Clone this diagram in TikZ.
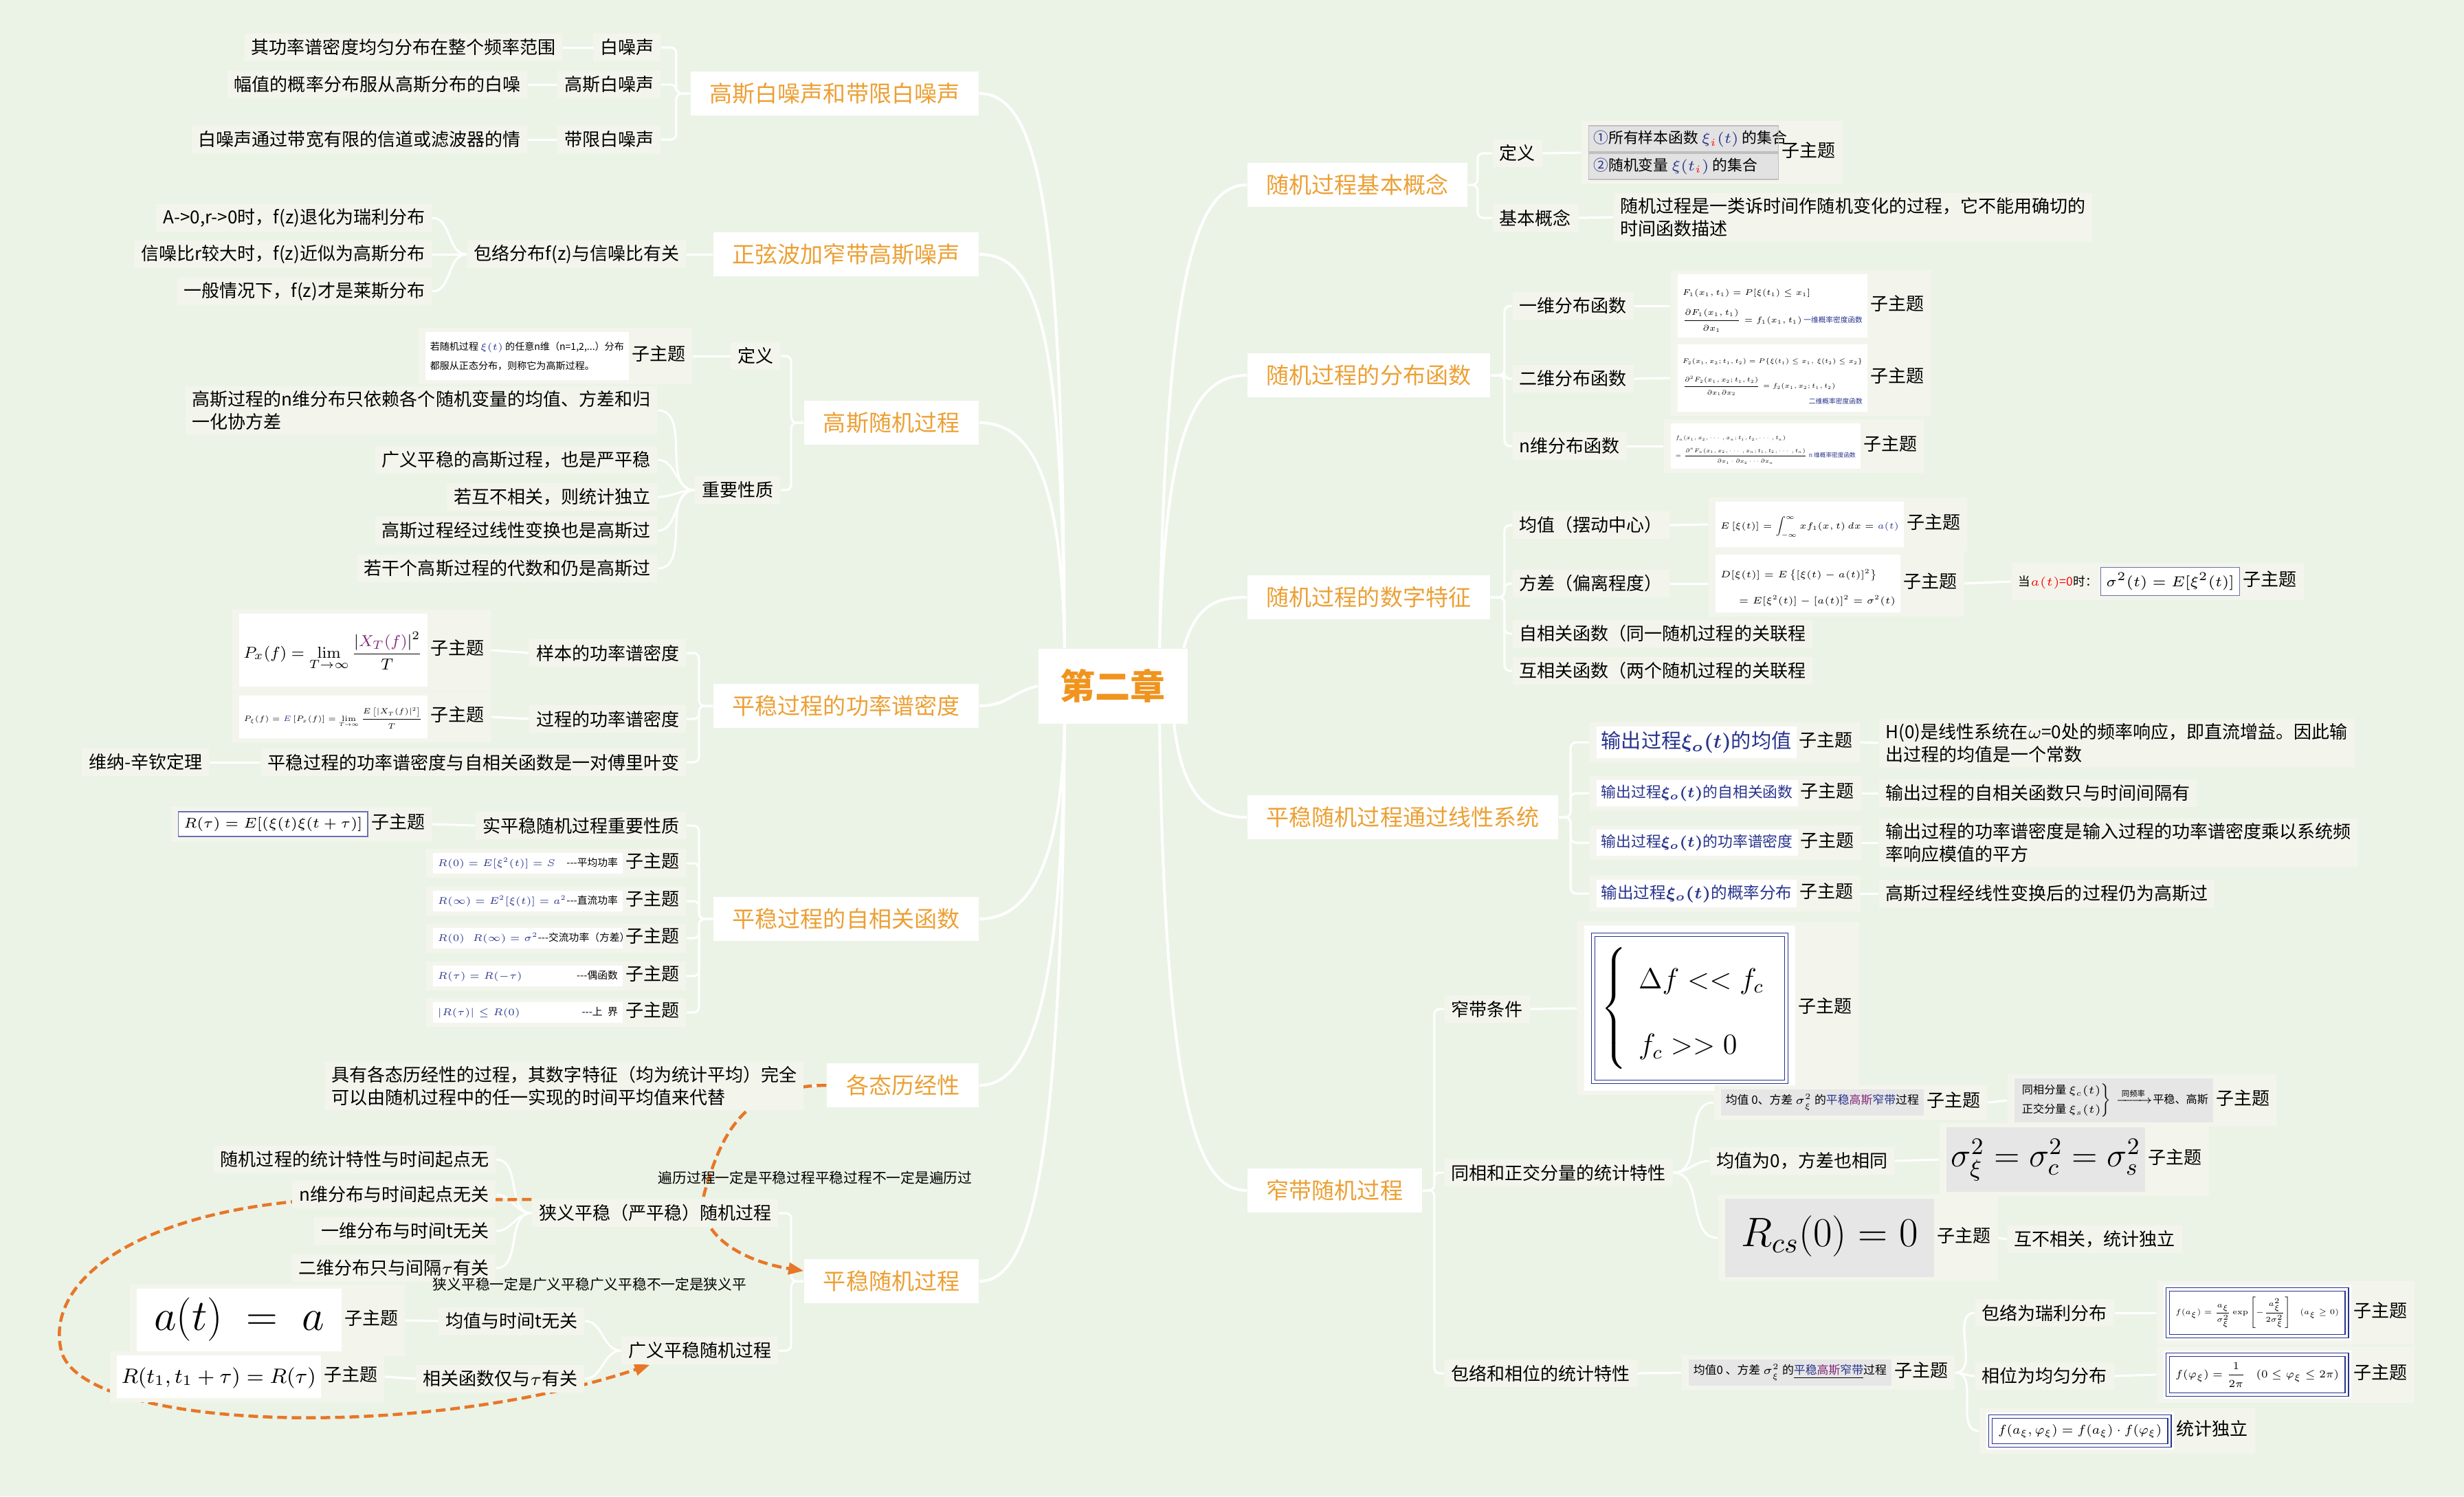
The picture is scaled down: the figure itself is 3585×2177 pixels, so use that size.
\RequirePackage{fix-cm}
\documentclass[tikz,border=0pt]{standalone}
\usepackage{amsmath}
\usepackage{graphicx}
\usepackage[no-math]{fontspec}
\setmainfont{Noto Sans CJK SC}
\usetikzlibrary{arrows.meta}
\pgfdeclarelayer{bg}
\pgfsetlayers{bg,main}
\definecolor{bgGreen}{RGB}{235,243,230}
\definecolor{leafBg}{RGB}{243,245,237}
\definecolor{branchOrange}{RGB}{236,160,52}
\definecolor{rootOrange}{RGB}{240,148,30}
\definecolor{relOrange}{RGB}{232,118,40}
\definecolor{mathBlue}{RGB}{40,52,140}
\definecolor{mathPurple}{RGB}{130,40,120}
\definecolor{btnGrey}{RGB}{226,226,226}
\definecolor{imgGrey}{RGB}{230,230,230}
\newcommand{\leaffont}{\fontsize{7.4}{9.4}\selectfont}
\newcommand{\branchfont}{\fontsize{9.4}{11}\selectfont}
\newcommand{\rootfont}{\fontsize{14.5}{16}\selectfont\bfseries}
\newcommand{\zt}{子主题}
\newcommand{\wbox}[2][white]{$\vcenter{\hbox{\setlength{\fboxsep}{2pt}\colorbox{#1}{#2}}}$}
\newcommand{\bbox}[1]{$\vcenter{\hbox{\setlength{\fboxsep}{2pt}\fcolorbox{mathBlue!70}{white}{#1}}}$}
\newcommand{\dbox}[2][0.1cm]{$\vcenter{\hbox{\setlength{\fboxsep}{#1}\colorbox{white}{%
  \setlength{\fboxrule}{0.4pt}\setlength{\fboxsep}{0.035cm}\fcolorbox{mathBlue}{white}{%
  \setlength{\fboxsep}{0.08cm}\fcolorbox{mathBlue}{white}{#2}}}}}$}
\newcommand{\fitw}[2]{\resizebox{#1}{!}{#2}}
\newcommand{\btn}[1]{{\setlength{\fboxsep}{1.8pt}\fcolorbox{black!25}{btnGrey}{\makebox[2.62cm][l]{\fontsize{6.2}{7.5}\selectfont#1}}}}
\newcommand{\acfrow}[2]{\wbox{\makebox[2.62cm][l]{\fontsize{4}{7}\selectfont\textcolor{mathBlue}{$#1$}\hfill{\fontsize{4.2}{7}\selectfont{-}{-}{-}#2}}}\,\zt}

\begin{document}
\begin{tikzpicture}[x=0.01cm,y=-0.01cm,
  root/.style={fill=white,text=rootOrange,font=\rootfont,inner xsep=0.32cm,minimum height=1.09cm},
  branch/.style={fill=white,text=branchOrange,font=\branchfont,inner xsep=0.28cm,minimum height=0.64cm},
  leaf/.style={fill=leafBg,font=\leaffont,inner xsep=0.1cm,inner ysep=0.06cm,minimum height=0.4cm,align=left},
  note/.style={font=\fontsize{5.9}{7}\selectfont,inner sep=0pt},
  mainlink/.style={white,line width=0.04cm},
  link/.style={white,line width=0.03cm,rounded corners=0.08cm},
  relation/.style={relOrange,line width=0.045cm,dash pattern=on 0.14cm off 0.07cm,-{Triangle[length=0.22cm,width=0.17cm]}}]
\useasboundingbox (0,0) rectangle (3585,2177);
\begin{pgfonlayer}{bg}
  \fill[bgGreen] (0,0) rectangle (3585,2177);
\end{pgfonlayer}

\node[root] (ch2) at (1619,998) {第二章};

% white noise
\node[branch,anchor=east] (wnoise) at (1425,136) {高斯白噪声和带限白噪声};
\node[leaf,anchor=east] (white) at (962,69) {白噪声};
\node[leaf,anchor=east] (whiteD) at (819,69) {其功率谱密度均匀分布在整个频率范围};
\node[leaf,anchor=east] (gwhite) at (962,123) {高斯白噪声};
\node[leaf,anchor=east] (gwhiteD) at (768,123) {幅值的概率分布服从高斯分布的白噪};
\node[leaf,anchor=east] (bwhite) at (962,203) {带限白噪声};
\node[leaf,anchor=east] (bwhiteD) at (768,203) {白噪声通过带宽有限的信道或滤波器的情};

% sine wave plus noise
\node[branch,anchor=east] (sine) at (1425,370) {正弦波加窄带高斯噪声};
\node[leaf,anchor=east] (env) at (999,370) {包络分布f(z)与信噪比有关};
\node[leaf,anchor=east] (envA) at (629,317) {A->0,r->0时，f(z)退化为瑞利分布};
\node[leaf,anchor=east] (envB) at (629,370) {信噪比r较大时，f(z)近似为高斯分布};
\node[leaf,anchor=east] (envC) at (629,424) {一般情况下，f(z)才是莱斯分布};

% gaussian process
\node[branch,anchor=east] (gproc) at (1425,615) {高斯随机过程};
\node[leaf,anchor=east] (gdef) at (1136,518) {定义};
\node[leaf,anchor=east] (gdefF) at (1008,518) {\wbox{\fontsize{4}{8}\selectfont\begin{tabular}{@{}l@{}}若随机过程 \textcolor{mathBlue}{$\xi(t)$} 的任意n维（n=1,2,...）分布\\都服从正态分布，则称它为高斯过程。\end{tabular}}\,\zt};
\node[leaf,anchor=east] (gprop) at (1136,713) {重要性质};
\node[leaf,anchor=east] (gp1) at (957,597) {高斯过程的n维分布只依赖各个随机变量的均值、方差和归\\一化协方差};
\node[leaf,anchor=east] (gp2) at (957,669) {广义平稳的高斯过程，也是严平稳};
\node[leaf,anchor=east] (gp3) at (957,723) {若互不相关，则统计独立};
\node[leaf,anchor=east] (gp4) at (957,772) {高斯过程经过线性变换也是高斯过};
\node[leaf,anchor=east] (gp5) at (957,827) {若干个高斯过程的代数和仍是高斯过};

% power spectral density
\node[branch,anchor=east] (psd) at (1425,1027) {平稳过程的功率谱密度};
\node[leaf,anchor=east] (psdS) at (999,950) {样本的功率谱密度};
\node[leaf,anchor=east] (psdSF) at (715,946) {\wbox{\fontsize{8}{10}\selectfont\rule[-0.35cm]{0pt}{0.92cm}\fitw{2.6cm}{$\displaystyle P_x(f)=\lim_{T\to\infty}\frac{\left|\textcolor{mathPurple}{X_T(f)}\right|^2}{T}$}}\,\zt};
\node[leaf,anchor=east] (psdP) at (999,1046) {过程的功率谱密度};
\node[leaf,anchor=east] (psdPF) at (715,1043) {\wbox{\fontsize{4.3}{6}\selectfont\rule[-0.18cm]{0pt}{0.48cm}\fitw{2.6cm}{$\displaystyle P_\xi(f)=\textcolor{mathBlue}{E}\left[P_x(f)\right]=\lim_{T\to\infty}\frac{E\left[|X_T(f)|^2\right]}{T}$}}\,\zt};
\node[leaf,anchor=east] (psdW) at (999,1109) {平稳过程的功率谱密度与自相关函数是一对傅里叶变};
\node[leaf,anchor=east] (wk) at (305,1109) {维纳-辛钦定理};

% autocorrelation
\node[branch,anchor=east] (acf) at (1425,1337) {平稳过程的自相关函数};
\node[leaf,anchor=east] (acfR) at (999,1201) {实平稳随机过程重要性质};
\node[leaf,anchor=east] (acfRF) at (629,1199) {\bbox{\fitw{2.6cm}{\fontsize{6.6}{9}\selectfont$R(\tau)=E[(\xi(t)\xi(t+\tau)]$}}\,\zt};
\node[leaf,anchor=east] (acf1) at (999,1256) {\acfrow{R(0)=E[\xi^2(t)]=S}{平均功率}};
\node[leaf,anchor=east] (acf2) at (999,1311) {\acfrow{R(\infty)=E^2[\xi(t)]=a^2}{直流功率}};
\node[leaf,anchor=east] (acf3) at (999,1365) {\acfrow{R(0)\;\; R(\infty)=\sigma^2}{交流功率（方差）}};
\node[leaf,anchor=east] (acf4) at (999,1420) {\acfrow{R(\tau)=R(-\tau)}{偶函数}};
\node[leaf,anchor=east] (acf5) at (999,1473) {\acfrow{|R(\tau)|\le R(0)}{上\enspace 界}};

% ergodicity
\node[branch,anchor=east] (ergo) at (1425,1579) {各态历经性};
\node[leaf,anchor=east] (ergoD) at (1170,1580) {具有各态历经性的过程，其数字特征（均为统计平均）完全\\可以由随机过程中的任一实现的时间平均值来代替};

% stationary process
\node[branch,anchor=east] (stat) at (1425,1864) {平稳随机过程};
\node[leaf,anchor=east] (sss) at (1133,1765) {狭义平稳（严平稳）随机过程};
\node[leaf,anchor=east] (sss1) at (722,1687) {随机过程的统计特性与时间起点无};
\node[leaf,anchor=east] (sss2) at (722,1738) {n维分布与时间起点无关};
\node[leaf,anchor=east] (sss3) at (722,1791) {一维分布与时间t无关};
\node[leaf,anchor=east] (sss4) at (722,1845) {二维分布只与间隔$\tau$有关};
\node[leaf,anchor=east] (wss) at (1133,1965) {广义平稳随机过程};
\node[leaf,anchor=east] (wss1) at (851,1922) {均值与时间t无关};
\node[leaf,anchor=east] (wss1F) at (590,1921) {\wbox{\fontsize{18}{22}\selectfont\rule[-0.25cm]{0pt}{0.78cm}$\;a(t)\;=\;a\;$}\,\zt};
\node[leaf,anchor=east] (wss2) at (851,2006) {相关函数仅与$\tau$有关};
\node[leaf,anchor=east] (wss2F) at (560,2003) {\wbox{\fontsize{8.6}{12}\selectfont\rule[-0.15cm]{0pt}{0.48cm}$R(t_1,t_1+\tau)=R(\tau)$}\,\zt};
\node[note] (ergoNote) at (1186,1714) {遍历过程一定是平稳过程平稳过程不一定是遍历过};
\node[note] (sssNote) at (858,1869) {狭义平稳一定是广义平稳广义平稳不一定是狭义平};

% basic concepts
\node[branch,anchor=west] (basic) at (1814,269) {随机过程基本概念};
\node[leaf,anchor=west] (bdef) at (2171,223) {定义};
\node[leaf,anchor=west] (bdefF) at (2300,222) {$\vcenter{\hbox{\begin{tabular}{@{}l@{}}\btn{\textcolor{mathBlue}{①}所有样本函数 $\textcolor{mathBlue}{\xi_{\textcolor{red}{i}}(t)}$ 的集合}\\[1pt]\btn{\textcolor{mathBlue}{②}随机变量 $\textcolor{mathBlue}{\xi(t_{\textcolor{red}{i}})}$ 的集合}\end{tabular}}}$\,\zt};
\node[leaf,anchor=west] (bcon) at (2171,317) {基本概念};
\node[leaf,anchor=west] (bconD) at (2347,316) {随机过程是一类诉时间作随机变化的过程，它不能用确切的\\时间函数描述};

% distribution functions
\node[branch,anchor=west] (dist) at (1814,546) {随机过程的分布函数};
\node[leaf,anchor=west] (dist1) at (2200,445) {一维分布函数};
\node[leaf,anchor=west] (dist1F) at (2430,445) {\wbox{\fitw{2.62cm}{\fontsize{4.1}{6}\selectfont\begin{tabular}{@{}l@{}}\rule{0pt}{0.28cm}$F_1(x_1,t_1)=P[\xi(t_1)\le x_1]$\\[5pt]$\dfrac{\partial F_1(x_1,t_1)}{\partial x_1}=f_1(x_1,t_1)$\ {\fontsize{3.7}{5}\selectfont\textcolor{mathBlue}{一维概率密度函数}}\end{tabular}}}\,\zt};
\node[leaf,anchor=west] (dist2) at (2200,551) {二维分布函数};
\node[leaf,anchor=west] (dist2F) at (2430,550) {\wbox{\fitw{2.62cm}{\fontsize{3.3}{5}\selectfont\begin{tabular}{@{}l@{}}\rule{0pt}{0.25cm}$F_2(x_1,x_2;t_1,t_2)=P\{\xi(t_1)\le x_1,\ \xi(t_2)\le x_2\}$\\[5pt]$\dfrac{\partial^2F_2(x_1,x_2;t_1,t_2)}{\partial x_1\partial x_2}=f_2(x_1,x_2;t_1,t_2)$\\[3pt]\hfill{\fontsize{3.4}{5}\selectfont\textcolor{mathBlue}{二维概率密度函数}}\end{tabular}}}\,\zt};
\node[leaf,anchor=west] (dist3) at (2200,649) {n维分布函数};
\node[leaf,anchor=west] (dist3F) at (2420,649) {\wbox{\fitw{2.62cm}{\fontsize{2.9}{5}\selectfont\begin{tabular}{@{}l@{}}\rule{0pt}{0.22cm}$f_n(x_1,x_2,\cdots,x_n;t_1,t_2,\cdots,t_n)$\\[3pt]$=\dfrac{\partial^nF_n(x_1,x_2,\cdots,x_n;t_1,t_2,\cdots,t_n)}{\partial x_1\cdot\partial x_2\cdots\partial x_n}$\ {\fontsize{3.2}{5}\selectfont\textcolor{mathBlue}{n 维概率密度函数}}\end{tabular}}}\,\zt};

% numerical characteristics
\node[branch,anchor=west] (num) at (1814,869) {随机过程的数字特征};
\node[leaf,anchor=west] (mean) at (2200,764) {均值（摆动中心）};
\node[leaf,anchor=west] (meanF) at (2485,763) {\wbox{\fontsize{5.2}{8}\selectfont\rule[-0.2cm]{0pt}{0.52cm}\fitw{2.6cm}{$\displaystyle E\left[\xi(t)\right]=\int_{-\infty}^{\infty}x f_1(x,t)\,dx=\textcolor{mathBlue}{a(t)}$}}\,\zt};
\node[leaf,anchor=west] (var) at (2200,849) {方差（偏离程度）};
\node[leaf,anchor=west] (varF) at (2485,849) {\wbox{\fitw{2.55cm}{\fontsize{4.7}{7}\selectfont\begin{tabular}{@{}l@{}}\rule{0pt}{0.32cm}$D[\xi(t)]=E\left\{[\xi(t)-a(t)]^2\right\}$\\[6pt]\hspace{2em}$=E[\xi^2(t)]-[a(t)]^2=\sigma^2(t)$\end{tabular}}}\,\zt};
\node[leaf,anchor=west] (varG) at (2926,846) {{\fontsize{5}{6}\selectfont 当\textcolor{red}{$a(t)$=0}时：}\,\bbox{\fontsize{6}{7}\selectfont$\sigma^2(t)=E[\xi^2(t)]$}\,\zt};
\node[leaf,anchor=west] (acorr) at (2200,922) {自相关函数（同一随机过程的关联程};
\node[leaf,anchor=west] (xcorr) at (2200,976) {互相关函数（两个随机过程的关联程};

% linear systems
\node[branch,anchor=west] (lin) at (1814,1189) {平稳随机过程通过线性系统};
\node[leaf,anchor=west] (lin1) at (2312,1080) {\wbox{\fontsize{8.3}{10}\selectfont\textcolor{mathBlue}{输出过程$\boldsymbol{\xi_o(t)}$的均值}}\,\zt};
\node[leaf,anchor=west] (lin1D) at (2733,1081) {H(0)是线性系统在$\omega$=0处的频率响应，即直流增益。因此输\\出过程的均值是一个常数};
\node[leaf,anchor=west] (lin2) at (2312,1154) {\wbox{\fontsize{6.2}{8}\selectfont\textcolor{mathBlue}{输出过程$\boldsymbol{\xi_o(t)}$的自相关函数}}\,\zt};
\node[leaf,anchor=west] (lin2D) at (2733,1154) {输出过程的自相关函数只与时间间隔有};
\node[leaf,anchor=west] (lin3) at (2312,1226) {\wbox{\fontsize{6.2}{8}\selectfont\textcolor{mathBlue}{输出过程$\boldsymbol{\xi_o(t)}$的功率谱密度}}\,\zt};
\node[leaf,anchor=west] (lin3D) at (2733,1226) {输出过程的功率谱密度是输入过程的功率谱密度乘以系统频\\率响应模值的平方};
\node[leaf,anchor=west] (lin4) at (2312,1300) {\wbox{\fontsize{6.7}{8}\selectfont\textcolor{mathBlue}{输出过程$\boldsymbol{\xi_o(t)}$的概率分布}}\,\zt};
\node[leaf,anchor=west] (lin4D) at (2733,1300) {高斯过程经线性变换后的过程仍为高斯过};

% narrowband process
\node[branch,anchor=west] (nb) at (1814,1732) {窄带随机过程};
\node[leaf,anchor=west] (nbc) at (2101,1468) {窄带条件};
\node[leaf,anchor=west] (nbcF) at (2294,1467) {\dbox{\fontsize{12}{16}\selectfont\renewcommand{\arraystretch}{1.7}$\left\{\begin{array}{l}\Delta f<<f_c\\ f_c>>0\end{array}\right.$}\,\zt};
\node[leaf,anchor=west] (iq) at (2101,1706) {同相和正交分量的统计特性};
\node[leaf,anchor=west] (iq1) at (2493,1604) {\wbox[imgGrey]{\fontsize{4.8}{6}\selectfont 均值 0、方差 $\sigma_\xi^2$ 的\textcolor{mathBlue}{平稳}\textcolor{mathPurple}{高斯}\textcolor{mathBlue}{窄带}过程}\,\zt};
\node[leaf,anchor=west] (iq1c) at (2920,1601) {\wbox[imgGrey]{\fitw{2.75cm}{\fontsize{4.6}{6}\selectfont$\left.\begin{array}{@{}l@{}}\text{同相分量 }\xi_c(t)\\[2pt]\text{正交分量 }\xi_s(t)\end{array}\right\}\xrightarrow{\ \text{同频率}\ }$平稳、高斯}}\,\zt};
\node[leaf,anchor=west] (iq2) at (2487,1689) {均值为0，方差也相同};
\node[leaf,anchor=west] (iq2F) at (2821,1687) {\wbox[imgGrey]{\fontsize{14}{16}\selectfont\rule[-0.3cm]{0pt}{0.8cm}$\sigma_\xi^2=\sigma_c^2=\sigma_s^2$}\,\zt};
\node[leaf,anchor=west] (iq3) at (2499,1801) {\wbox[imgGrey]{\fontsize{17}{20}\selectfont\rule[-0.38cm]{0pt}{1.0cm}$\;R_{cs}(0)=0\;$}\,\zt};
\node[leaf,anchor=west] (iq3c) at (2920,1803) {互不相关，统计独立};
\node[leaf,anchor=west] (ep) at (2101,1998) {包络和相位的统计特性};
\node[leaf,anchor=west] (ep1) at (2446,1997) {\wbox[imgGrey]{\fontsize{4.8}{6}\selectfont 均值0 、方差 $\sigma_\xi^2$ 的\underline{\textcolor{mathBlue}{平稳}\textcolor{mathPurple}{高斯}\textcolor{mathBlue}{窄带}}过程}\,\zt};
\node[leaf,anchor=west] (ray) at (2873,1910) {包络为瑞利分布};
\node[leaf,anchor=west] (rayF) at (3137,1910) {\dbox[0.03cm]{\fitw{2.38cm}{\fontsize{5}{7}\selectfont\rule[-0.12cm]{0pt}{0.42cm}$\displaystyle f(a_\xi)=\frac{a_\xi}{\sigma_\xi^2}\exp\left[-\frac{a_\xi^2}{2\sigma_\xi^2}\right]\quad(a_\xi\ge0)$}}\,\zt};
\node[leaf,anchor=west] (phase) at (2873,2002) {相位为均匀分布};
\node[leaf,anchor=west] (phaseF) at (3137,2000) {\dbox[0.03cm]{\fitw{2.38cm}{\fontsize{6}{8}\selectfont$\displaystyle f(\varphi_\xi)=\frac{1}{2\pi}\quad(0\le\varphi_\xi\le2\pi)$}}\,\zt};
\node[leaf,anchor=west] (joint) at (2879,2082) {\dbox[0.03cm]{\fitw{2.38cm}{\fontsize{7}{9}\selectfont$f(a_\xi,\varphi_\xi)=f(a_\xi)\cdot f(\varphi_\xi)$}}\,统计独立};

\begin{pgfonlayer}{bg}
  % root to branches
  \coordinate (upL) at ([xshift=-0.7cm]ch2.north);
  \coordinate (upR) at ([xshift=0.68cm]ch2.north);
  \coordinate (dnL) at ([xshift=-0.7cm]ch2.south);
  \coordinate (dnR) at ([xshift=0.68cm]ch2.south);
  \draw[mainlink] (upL) .. controls (1545,350) and (1520,136) .. (wnoise.east);
  \draw[mainlink] (upL) .. controls (1545,500) and (1515,370) .. (sine.east);
  \draw[mainlink] (upL) .. controls (1545,720) and (1510,615) .. (gproc.east);
  \draw[mainlink] (ch2.west) .. controls (1470,1008) and (1465,1027) .. (psd.east);
  \draw[mainlink] (dnL) .. controls (1545,1250) and (1500,1337) .. (acf.east);
  \draw[mainlink] (dnL) .. controls (1545,1450) and (1500,1579) .. (ergo.east);
  \draw[mainlink] (dnL) .. controls (1545,1700) and (1500,1864) .. (stat.east);
  \draw[mainlink] (upR) .. controls (1695,400) and (1740,269) .. (basic.west);
  \draw[mainlink] (upR) .. controls (1695,620) and (1740,546) .. (dist.west);
  \draw[mainlink] ([xshift=-0.06cm]ch2.north east) .. controls (1740,880) and (1770,869) .. (num.west);
  \draw[mainlink] ([xshift=-0.2cm]ch2.south east) .. controls (1720,1160) and (1760,1189) .. (lin.west);
  \draw[mainlink] (dnR) .. controls (1695,1600) and (1740,1732) .. (nb.west);
  % left side
  \foreach \c in {white,gwhite,bwhite} \draw[link] (wnoise.west) -- ++(-20,0) |- (\c.east);
  \draw[link] (white.west) -- (whiteD.east);
  \draw[link] (gwhite.west) -- (gwhiteD.east);
  \draw[link] (bwhite.west) -- (bwhiteD.east);
  \draw[link] (sine.west) -- (env.east);
  \foreach \c in {envA,envB,envC} \draw[link] (env.west) to[out=180,in=0] (\c.east);
  \foreach \c in {gdef,gprop} \draw[link] (gproc.west) -- ++(-18,0) |- (\c.east);
  \draw[link] (gdef.west) -- (gdefF.east);
  \foreach \c in {gp1,gp2,gp3,gp4,gp5} \draw[link] (gprop.west) to[out=180,in=0] (\c.east);
  \foreach \c in {psdS,psdP,psdW} \draw[link] (psd.west) -- ++(-20,0) |- (\c.east);
  \draw[link] (psdS.west) -- (psdSF.east);
  \draw[link] (psdP.west) -- (psdPF.east);
  \draw[link] (psdW.west) -- (wk.east);
  \foreach \c in {acfR,acf1,acf2,acf3,acf4,acf5} \draw[link] (acf.west) -- ++(-20,0) |- (\c.east);
  \draw[link] (acfR.west) -- (acfRF.east);
  \draw[link] (ergo.west) -- (ergoD.east);
  \foreach \c in {sss,wss} \draw[link] (stat.west) -- ++(-18,0) |- (\c.east);
  \foreach \c in {sss1,sss2,sss3,sss4} \draw[link] (sss.west) to[out=180,in=0] (\c.east);
  \foreach \c in {wss1,wss2} \draw[link] (wss.west) to[out=180,in=0] (\c.east);
  \draw[link] (wss1.west) -- (wss1F.east);
  \draw[link] (wss2.west) -- (wss2F.east);
  % right side
  \foreach \c in {bdef,bcon} \draw[link] (basic.east) -- ++(14,0) |- (\c.west);
  \draw[link] (bdef.east) -- (bdefF.west);
  \draw[link] (bcon.east) -- (bconD.west);
  \foreach \c in {dist1,dist2,dist3} \draw[link] (dist.east) -- ++(20,0) |- (\c.west);
  \draw[link] (dist1.east) -- (dist1F.west);
  \draw[link] (dist2.east) -- (dist2F.west);
  \draw[link] (dist3.east) -- (dist3F.west);
  \foreach \c in {mean,var,acorr,xcorr} \draw[link] (num.east) -- ++(20,0) |- (\c.west);
  \draw[link] (mean.east) -- (meanF.west);
  \draw[link] (var.east) -- (varF.west);
  \draw[link] (varF.east) -- (varG.west);
  \foreach \c in {lin1,lin2,lin3,lin4} \draw[link] (lin.east) -- ++(17,0) |- (\c.west);
  \draw[link] (lin1.east) -- (lin1D.west);
  \draw[link] (lin2.east) -- (lin2D.west);
  \draw[link] (lin3.east) -- (lin3D.west);
  \draw[link] (lin4.east) -- (lin4D.west);
  \foreach \c in {nbc,iq,ep} \draw[link] (nb.east) -- ++(17,0) |- (\c.west);
  \draw[link] (nbc.east) -- (nbcF.west);
  \foreach \c in {iq1,iq2,iq3} \draw[link] (iq.east) to[out=0,in=180] (\c.west);
  \draw[link] (iq1.east) -- (iq1c.west);
  \draw[link] (iq2.east) -- (iq2F.west);
  \draw[link] (iq3.east) -- (iq3c.west);
  \draw[link] (ep.east) -- (ep1.west);
  \foreach \c in {ray,phase,joint} \draw[link] (ep1.east) to[out=0,in=180] (\c.west);
  \draw[link] (ray.east) -- (rayF.west);
  \draw[link] (phase.east) -- (phaseF.west);
  % relations
  \draw[relation] (ergo.west) .. controls (1080,1580) and (1050,1650) .. (1025,1735)
    .. controls (1010,1795) and (1080,1835) .. ([yshift=0.15cm]stat.west);
  \draw[relation] ([yshift=0.2cm]sss.west) -- (430,1748) .. controls (200,1770) and (70,1860) .. (88,1960)
    .. controls (105,2080) and (600,2100) .. ([xshift=0.42cm]wss.south west);
\end{pgfonlayer}
\end{tikzpicture}
\end{document}
